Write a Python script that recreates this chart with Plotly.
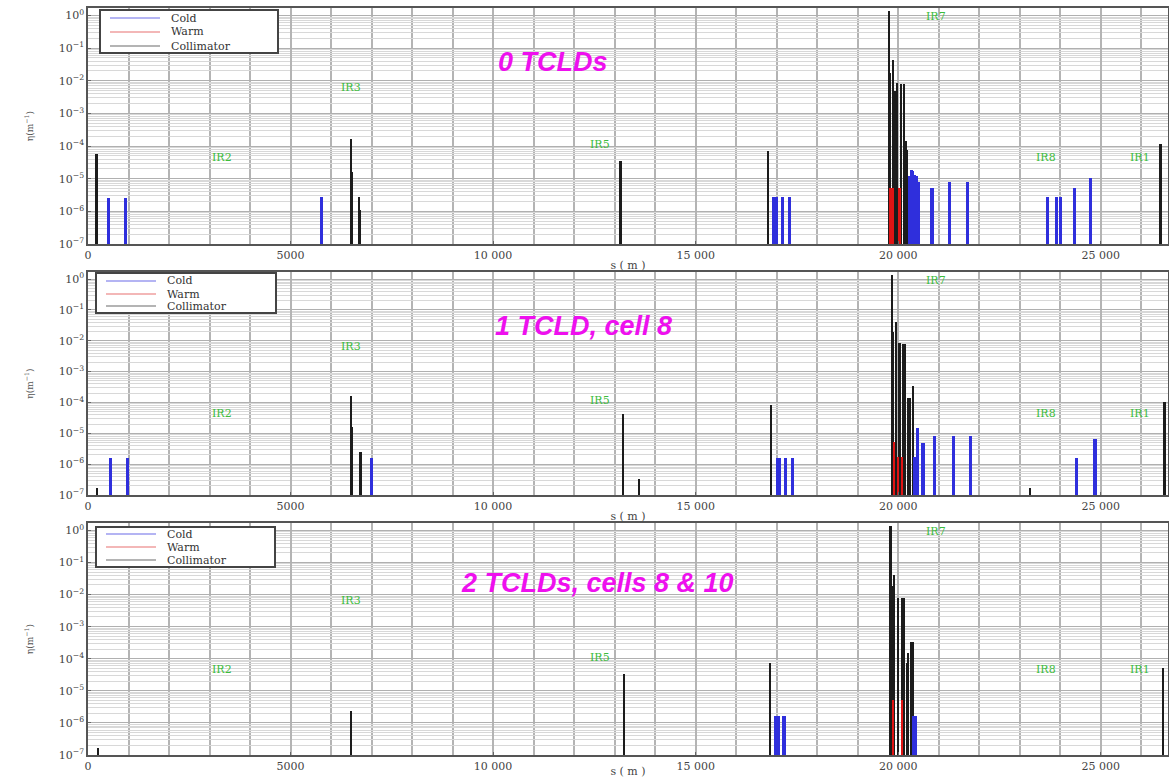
import plotly.graph_objects as go
from plotly.subplots import make_subplots

# ---------------- data: loss positions s (m) and inefficiency eta (1/m) ----------------
# 0 TCLDs
coll_s_0 = [209, 6483, 6515, 6690, 6712, 13145, 16790, 19766, 19798, 19865, 19906,
            19970, 20069, 20136, 20185, 20217, 26473]
coll_v_0 = [5.9e-5, 1.66e-4, 1.66e-5, 2.8e-6, 1.1e-6, 3.5e-5, 7.2e-5, 1.35, 0.0174, 0.043, 4.8e-3,
            8.5e-3, 8.2e-3, 8.2e-3, 1.45e-4, 7.7e-5, 1.15e-4]
warm_s_0 = [19810, 19870, 20030]
warm_v_0 = [5.3e-6, 5.3e-6, 5.3e-6]
cold_s_0 = [517, 936, 5759, 16920, 16985, 17140, 17320, 20276, 20316, 20357, 20399, 20439,
            20505, 20833, 21260, 21712, 23682, 23896, 23995, 24340, 24749]
cold_v_0 = [2.6e-6, 2.6e-6, 2.7e-6, 2.7e-6, 2.7e-6, 2.7e-6, 2.7e-6, 1.17e-5, 1.9e-5, 1.7e-5, 1.3e-5, 1.17e-5,
            7.7e-6, 5.1e-6, 7.7e-6, 8e-6, 2.7e-6, 2.7e-6, 2.7e-6, 5.1e-6, 1.04e-5]

# 1 TCLD, cell 8
coll_s_1 = [226, 6498, 6520, 6728, 6745, 13214, 13600, 16867, 19840, 19870, 19946, 20029,
            20111, 20168, 20234, 20291, 20357, 23256, 26571]
coll_v_1 = [1.7e-7, 1.6e-4, 1.6e-5, 2.4e-6, 7.4e-7, 4.1e-5, 3.4e-7, 8e-5, 1.35, 0.0186, 0.041, 8.2e-3,
            8e-3, 8e-3, 1.4e-4, 1.4e-4, 3.3e-4, 1.7e-7, 1.07e-4]
warm_s_1 = [19895, 19990, 20090]
warm_v_1 = [5.2e-6, 1.7e-6, 1.7e-6]
cold_s_1 = [562, 973, 7000, 17015, 17073, 17220, 17401, 20399, 20440, 20480, 20611, 20906,
            21359, 21786, 24404, 24857]
cold_v_1 = [1.6e-6, 1.6e-6, 1.6e-6, 1.6e-6, 1.6e-6, 1.6e-6, 1.6e-6, 1.7e-6, 1.7e-6, 1.5e-5, 4.9e-6, 8.2e-6,
            8.2e-6, 8.2e-6, 1.6e-6, 6.4e-6]

# 2 TCLDs, cells 8 & 10
coll_s_2 = [242, 6498, 13222, 16835, 19807, 19845, 19889, 20000, 20100, 20140, 20210, 20250,
            20330, 20370, 26540]
coll_v_2 = [1.6e-7, 2.4e-6, 3.3e-5, 7.4e-5, 1.36, 0.018, 0.042, 7.9e-3, 7.9e-3, 7.9e-3, 7.4e-5, 1.5e-4,
            3.3e-4, 3.3e-4, 5.1e-5]
warm_s_2 = [19865, 20094]
warm_v_2 = [5.2e-6, 5.2e-6]
cold_s_2 = [16983, 17032, 17180, 20380, 20420]
cold_v_2 = [1.6e-6, 1.6e-6, 1.6e-6, 1.6e-6, 1.6e-6]

panel_titles = ["0 TCLDs", "1 TCLD, cell 8", "2 TCLDs, cells 8 & 10"]
legend_names = ["Cold", "Warm", "Collimator"]

# insertion-region labels (s in m, log10 eta)
ir_names = ["IR2", "IR3", "IR5", "IR7", "IR8", "IR1"]
ir_s = [3300, 6500, 12650, 20920, 23650, 25970]
ir_logeta = [-4.35, -2.2, -3.95, -0.03, -4.35, -4.35]

x_tick_vals = [0, 5000, 10000, 15000, 20000, 25000]
x_tick_text = ["0", "5000", "10 000", "15 000", "20 000", "25 000"]
y_decades = [-7, -6, -5, -4, -3, -2, -1, 0]
y_tick_text = ["10<sup>−7</sup>", "10<sup>−6</sup>", "10<sup>−5</sup>", "10<sup>−4</sup>",
               "10<sup>−3</sup>", "10<sup>−2</sup>", "10<sup>−1</sup>", "10<sup>0</sup>"]

S_MAX = 26659

# ---------------- styling ----------------
W, H = 1169, 778
L_MARGIN, R_MARGIN = 88, 1
PW = W - L_MARGIN - R_MARGIN
COLL_COLOR = "#1c1c1c"
WARM_COLOR = "#e01414"
COLD_COLOR = "#2f2fdc"
KEY_COLORS = ["#6a6ae8", "#e87070", "#6a6a6a"]
SERIF = "DejaVu Serif, Liberation Serif, serif"

# plot areas in pixels (top, bottom)
panel_px = [(8, 244), (272, 495), (523, 755)]
# legend boxes in pixels: (left, top, right, bottom), key rows y
legend_box_px = [(100, 10, 278, 53), (96, 273, 276, 313), (96, 527, 275, 567)]
legend_rows_px = [(18, 32, 46), (281, 294, 306), (534, 547, 560)]
title_px = [(553, 62), (583, 326), (597, 583)]


def px_x(px):
    return (px - L_MARGIN) / PW


def px_y(py):
    return 1 - py / H


panels = [
    (coll_s_0, coll_v_0, warm_s_0, warm_v_0, cold_s_0, cold_v_0),
    (coll_s_1, coll_v_1, warm_s_1, warm_v_1, cold_s_1, cold_v_1),
    (coll_s_2, coll_v_2, warm_s_2, warm_v_2, cold_s_2, cold_v_2),
]

fig = make_subplots(rows=3, cols=1)

minor_y = [k * 10.0 ** n for n in range(-7, 1) for k in range(2, 10)]

for i, (cs, cv, ws, wv, ks, kv) in enumerate(panels, start=1):
    fig.add_trace(go.Bar(x=cs, y=cv, width=55, name="Collimator",
                         marker=dict(color=COLL_COLOR, line_width=0),
                         showlegend=False, hoverinfo="x+y"), row=i, col=1)
    fig.add_trace(go.Bar(x=ws, y=wv, width=60, name="Warm",
                         marker=dict(color=WARM_COLOR, line_width=0),
                         showlegend=False, hoverinfo="x+y"), row=i, col=1)
    fig.add_trace(go.Bar(x=ks, y=kv, width=75, name="Cold",
                         marker=dict(color=COLD_COLOR, line_width=0),
                         showlegend=False, hoverinfo="x+y"), row=i, col=1)

    top, bot = panel_px[i - 1]
    fig.update_yaxes(
        type="log", range=[-7, 0.23], domain=[1 - bot / H, 1 - top / H],
        tickvals=[10.0 ** d for d in y_decades], ticktext=y_tick_text,
        tickfont=dict(family=SERIF, size=11, color="#444"),
        showgrid=True, gridcolor="#b0b0b0", gridwidth=1.3,
        minor=dict(tickvals=minor_y, showgrid=True, gridcolor="#d8d8d8", gridwidth=1, ticks=""),
        showline=True, mirror=True, linecolor="#555", linewidth=1.5,
        ticks="inside", ticklen=3, tickcolor="#666", zeroline=False,
        title=dict(text="η(m<sup>−1</sup>)", font=dict(family=SERIF, size=9, color="#555"), standoff=24),
        automargin=False,
        row=i, col=1)
    fig.update_xaxes(
        range=[0, S_MAX], tickvals=x_tick_vals, ticktext=x_tick_text,
        tickfont=dict(family=SERIF, size=11, color="#444"),
        showgrid=True, gridcolor="#b4b4b4", gridwidth=1.5,
        minor=dict(dtick=1000, showgrid=True, gridcolor="#b4b4b4", gridwidth=1.5, ticks=""),
        showline=True, mirror=True, linecolor="#555", linewidth=1.5,
        ticks="inside", ticklen=3, tickcolor="#666", zeroline=False,
        title=dict(text="s ( m )", font=dict(family=SERIF, size=11, color="#444"), standoff=0),
        automargin=False,
        row=i, col=1)

    xref = "x" if i == 1 else f"x{i}"
    yref = "y" if i == 1 else f"y{i}"
    for nm, s, le in zip(ir_names, ir_s, ir_logeta):
        fig.add_annotation(x=s, y=le, xref=xref, yref=yref, text=nm, showarrow=False,
                           font=dict(family=SERIF, size=11, color="#3cbc3c"))

    # panel title
    tx, ty = title_px[i - 1]
    fig.add_annotation(x=px_x(tx), y=px_y(ty), xref="paper", yref="paper",
                       text=panel_titles[i - 1], showarrow=False,
                       xanchor="center", yanchor="middle",
                       font=dict(family="Liberation Sans, Arial, sans-serif", size=27,
                                 color="#ee10ee", weight="bold", style="italic"))

    # legend box with line keys
    lx0, ly0, lx1, ly1 = legend_box_px[i - 1]
    fig.add_shape(type="rect", xref="paper", yref="paper",
                  x0=px_x(lx0), x1=px_x(lx1), y0=px_y(ly1), y1=px_y(ly0),
                  line=dict(color="#444", width=2), fillcolor="white", layer="above")
    for name, col, ry in zip(legend_names, KEY_COLORS, legend_rows_px[i - 1]):
        fig.add_shape(type="line", xref="paper", yref="paper",
                      x0=px_x(lx0 + 10), x1=px_x(lx0 + 60), y0=px_y(ry), y1=px_y(ry),
                      line=dict(color=col, width=1.2), layer="above")
        fig.add_annotation(x=px_x(lx0 + 70), y=px_y(ry), xref="paper", yref="paper",
                           text=name, showarrow=False, xanchor="left", yanchor="middle",
                           borderpad=0,
                           font=dict(family=SERIF, size=11, color="#333"))

fig.update_layout(
    width=W, height=H,
    margin=dict(l=L_MARGIN, r=R_MARGIN, t=0, b=0),
    paper_bgcolor="white", plot_bgcolor="white",
    barmode="overlay", bargap=0,
    showlegend=False,
)

fig.write_html("out.html")
